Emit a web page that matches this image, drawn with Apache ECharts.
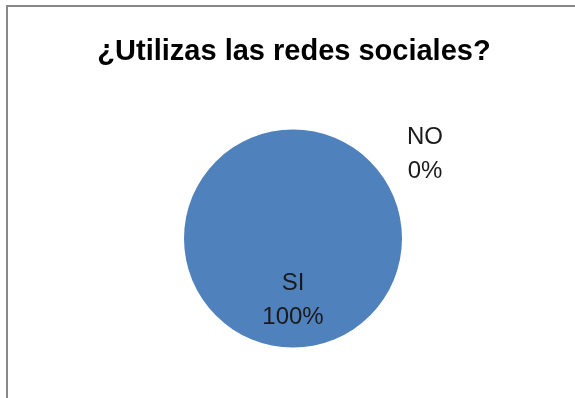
<!DOCTYPE html>
<html>
<head>
<meta charset="utf-8">
<script src="https://cdn.jsdelivr.net/npm/echarts@6/dist/echarts.min.js"></script>
<style>
html,body{margin:0;padding:0;background:#fff;}
#chart{width:575px;height:398px;}
</style>
</head>
<body>
<div id="chart"></div>
<script>
var titleText = '¿Utilizas las redes sociales?';
var categories = ['SI', 'NO'];
var values = [100, 0];

var chart = echarts.init(document.getElementById('chart'), null, {renderer: 'canvas'});
var data = categories.map(function (c, i) { return {name: c, value: values[i]}; });

chart.setOption({
  animation: false,
  backgroundColor: '#ffffff',
  graphic: [{
    type: 'rect',
    shape: {x: 7, y: 6, width: 700, height: 500},
    style: {fill: 'none', stroke: '#888888', lineWidth: 2},
    silent: true
  }, {
    type: 'text',
    x: 294, y: 52,
    style: {
      text: titleText,
      fontFamily: 'Liberation Sans, Arial, sans-serif',
      fontWeight: 'bold',
      fontSize: 29,
      fill: '#000',
      align: 'center',
      verticalAlign: 'middle'
    },
    silent: true
  }],
  series: [{
    type: 'pie',
    center: [293, 238.5],
    radius: [0, 109],
    startAngle: 90,
    clockwise: true,
    silent: true,
    data: data,
    itemStyle: {color: '#4F81BD'},
    label: {
      show: true,
      position: 'inside',
      formatter: function (p) { return p.name + '\n' + p.percent.toFixed(0) + '%'; },
      fontFamily: 'Liberation Sans, Arial, sans-serif',
      fontSize: 24,
      lineHeight: 34,
      color: '#1a1a1a'
    },
    labelLine: {show: false},
    labelLayout: function (p) {
      if (p.dataIndex === 0) {
        return {x: 293, y: 300, align: 'center', verticalAlign: 'middle'};
      }
      return {x: 425, y: 154, align: 'center', verticalAlign: 'middle'};
    }
  }]
});
</script>
</body>
</html>
